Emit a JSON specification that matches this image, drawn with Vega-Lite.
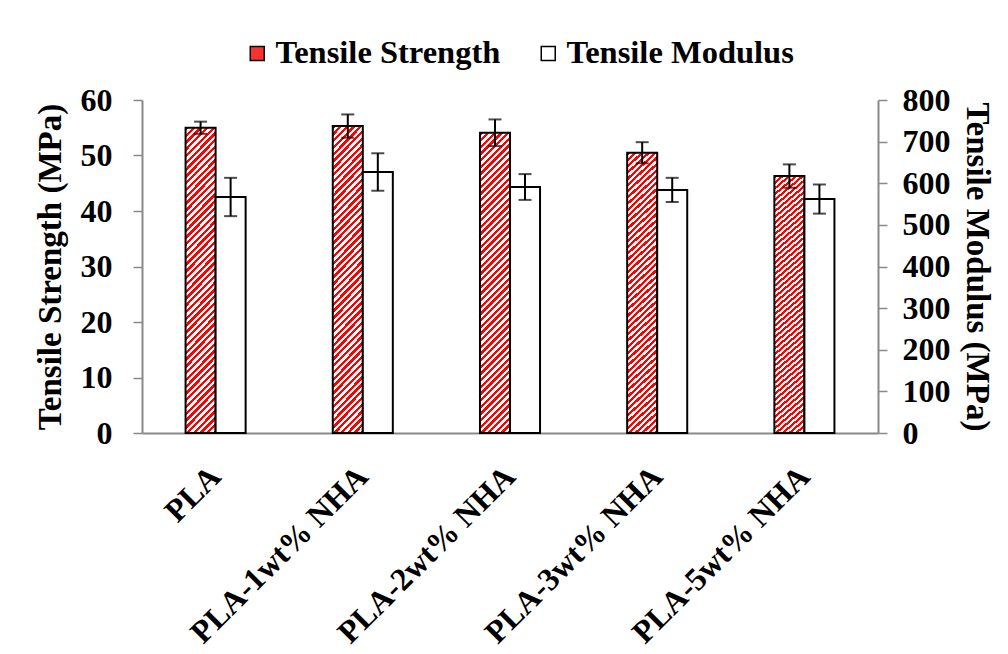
{
  "$schema": "https://vega.github.io/schema/vega-lite/v6.json",
  "width": 736,
  "height": 333,
  "autosize": {"type": "none"},
  "padding": {"left": 142, "top": 100, "right": 130, "bottom": 221},
  "background": "white",
  "config": {
    "view": {"stroke": null},
    "font": "Liberation Serif",
    "axis": {
      "labelFont": "Liberation Serif",
      "labelFontWeight": "bold",
      "labelFontSize": 32,
      "labelColor": "black",
      "labelLimit": 400,
      "titleFont": "Liberation Serif",
      "titleFontWeight": "bold",
      "titleFontSize": 33,
      "titleColor": "black",
      "domainColor": "#898989",
      "domainWidth": 2,
      "tickColor": "#898989",
      "tickWidth": 1.5,
      "tickSize": 9,
      "grid": false,
      "labelPadding": 18
    }
  },
  "data": {
    "values": [
      {"sample": "PLA", "property": "Tensile Strength", "mean": 55.0, "sd": 1.1},
      {"sample": "PLA", "property": "Tensile Modulus", "mean": 567, "sd": 46},
      {"sample": "PLA-1wt% NHA", "property": "Tensile Strength", "mean": 55.3, "sd": 2.1},
      {"sample": "PLA-1wt% NHA", "property": "Tensile Modulus", "mean": 627, "sd": 45},
      {"sample": "PLA-2wt% NHA", "property": "Tensile Strength", "mean": 54.1, "sd": 2.4},
      {"sample": "PLA-2wt% NHA", "property": "Tensile Modulus", "mean": 591, "sd": 31},
      {"sample": "PLA-3wt% NHA", "property": "Tensile Strength", "mean": 50.5, "sd": 1.9},
      {"sample": "PLA-3wt% NHA", "property": "Tensile Modulus", "mean": 584, "sd": 29},
      {"sample": "PLA-5wt% NHA", "property": "Tensile Strength", "mean": 46.3, "sd": 2.1},
      {"sample": "PLA-5wt% NHA", "property": "Tensile Modulus", "mean": 562, "sd": 35}
    ]
  },
  "encoding": {
    "x": {
      "field": "sample",
      "type": "nominal",
      "sort": null,
      "scale": {"paddingInner": 0.592, "paddingOuter": 0.296},
      "axis": {
        "title": null,
        "ticks": false,
        "labelAngle": -45,
        "labelAlign": "right",
        "labelBaseline": "middle",
        "labelPadding": 38
      }
    },
    "xOffset": {
      "field": "property",
      "type": "nominal",
      "scale": {"domain": ["Tensile Strength", "Tensile Modulus"], "paddingInner": 0, "paddingOuter": 0}
    }
  },
  "layer": [
    {
      "transform": [{"filter": "datum.property === 'Tensile Strength'"}],
      "encoding": {
        "y": {
          "field": "mean",
          "type": "quantitative",
          "scale": {"domain": [0, 60]},
          "axis": {"title": "Tensile Strength (MPa)", "values": [0, 10, 20, 30, 40, 50, 60], "titlePadding": 13, "labelPadding": 21}
        }
      },
      "layer": [
        {
          "mark": {
            "type": "bar",
            "strokeWidth": 2,
            "stroke": "black",
            "fill": {
              "gradient": "linear",
              "x1": 0, "y1": 0, "x2": 0.11, "y2": 1.1,
              "stops": [
                {"offset": 0, "color": "red"},
                {"offset": 0.01, "color": "red"}, {"offset": 0.01, "color": "white"},
                {"offset": 0.02, "color": "white"}, {"offset": 0.02, "color": "red"},
                {"offset": 0.03, "color": "red"}, {"offset": 0.03, "color": "white"},
                {"offset": 0.04, "color": "white"}, {"offset": 0.04, "color": "red"},
                {"offset": 0.05, "color": "red"}, {"offset": 0.05, "color": "white"},
                {"offset": 0.06, "color": "white"}, {"offset": 0.06, "color": "red"},
                {"offset": 0.07, "color": "red"}, {"offset": 0.07, "color": "white"},
                {"offset": 0.08, "color": "white"}, {"offset": 0.08, "color": "red"},
                {"offset": 0.09, "color": "red"}, {"offset": 0.09, "color": "white"},
                {"offset": 0.10, "color": "white"}, {"offset": 0.10, "color": "red"},
                {"offset": 0.11, "color": "red"}, {"offset": 0.11, "color": "white"},
                {"offset": 0.12, "color": "white"}, {"offset": 0.12, "color": "red"},
                {"offset": 0.13, "color": "red"}, {"offset": 0.13, "color": "white"},
                {"offset": 0.14, "color": "white"}, {"offset": 0.14, "color": "red"},
                {"offset": 0.15, "color": "red"}, {"offset": 0.15, "color": "white"},
                {"offset": 0.16, "color": "white"}, {"offset": 0.16, "color": "red"},
                {"offset": 0.17, "color": "red"}, {"offset": 0.17, "color": "white"},
                {"offset": 0.18, "color": "white"}, {"offset": 0.18, "color": "red"},
                {"offset": 0.19, "color": "red"}, {"offset": 0.19, "color": "white"},
                {"offset": 0.20, "color": "white"}, {"offset": 0.20, "color": "red"},
                {"offset": 0.21, "color": "red"}, {"offset": 0.21, "color": "white"},
                {"offset": 0.22, "color": "white"}, {"offset": 0.22, "color": "red"},
                {"offset": 0.23, "color": "red"}, {"offset": 0.23, "color": "white"},
                {"offset": 0.24, "color": "white"}, {"offset": 0.24, "color": "red"},
                {"offset": 0.25, "color": "red"}, {"offset": 0.25, "color": "white"},
                {"offset": 0.26, "color": "white"}, {"offset": 0.26, "color": "red"},
                {"offset": 0.27, "color": "red"}, {"offset": 0.27, "color": "white"},
                {"offset": 0.28, "color": "white"}, {"offset": 0.28, "color": "red"},
                {"offset": 0.29, "color": "red"}, {"offset": 0.29, "color": "white"},
                {"offset": 0.30, "color": "white"}, {"offset": 0.30, "color": "red"},
                {"offset": 0.31, "color": "red"}, {"offset": 0.31, "color": "white"},
                {"offset": 0.32, "color": "white"}, {"offset": 0.32, "color": "red"},
                {"offset": 0.33, "color": "red"}, {"offset": 0.33, "color": "white"},
                {"offset": 0.34, "color": "white"}, {"offset": 0.34, "color": "red"},
                {"offset": 0.35, "color": "red"}, {"offset": 0.35, "color": "white"},
                {"offset": 0.36, "color": "white"}, {"offset": 0.36, "color": "red"},
                {"offset": 0.37, "color": "red"}, {"offset": 0.37, "color": "white"},
                {"offset": 0.38, "color": "white"}, {"offset": 0.38, "color": "red"},
                {"offset": 0.39, "color": "red"}, {"offset": 0.39, "color": "white"},
                {"offset": 0.40, "color": "white"}, {"offset": 0.40, "color": "red"},
                {"offset": 0.41, "color": "red"}, {"offset": 0.41, "color": "white"},
                {"offset": 0.42, "color": "white"}, {"offset": 0.42, "color": "red"},
                {"offset": 0.43, "color": "red"}, {"offset": 0.43, "color": "white"},
                {"offset": 0.44, "color": "white"}, {"offset": 0.44, "color": "red"},
                {"offset": 0.45, "color": "red"}, {"offset": 0.45, "color": "white"},
                {"offset": 0.46, "color": "white"}, {"offset": 0.46, "color": "red"},
                {"offset": 0.47, "color": "red"}, {"offset": 0.47, "color": "white"},
                {"offset": 0.48, "color": "white"}, {"offset": 0.48, "color": "red"},
                {"offset": 0.49, "color": "red"}, {"offset": 0.49, "color": "white"},
                {"offset": 0.50, "color": "white"}, {"offset": 0.50, "color": "red"},
                {"offset": 0.51, "color": "red"}, {"offset": 0.51, "color": "white"},
                {"offset": 0.52, "color": "white"}, {"offset": 0.52, "color": "red"},
                {"offset": 0.53, "color": "red"}, {"offset": 0.53, "color": "white"},
                {"offset": 0.54, "color": "white"}, {"offset": 0.54, "color": "red"},
                {"offset": 0.55, "color": "red"}, {"offset": 0.55, "color": "white"},
                {"offset": 0.56, "color": "white"}, {"offset": 0.56, "color": "red"},
                {"offset": 0.57, "color": "red"}, {"offset": 0.57, "color": "white"},
                {"offset": 0.58, "color": "white"}, {"offset": 0.58, "color": "red"},
                {"offset": 0.59, "color": "red"}, {"offset": 0.59, "color": "white"},
                {"offset": 0.60, "color": "white"}, {"offset": 0.60, "color": "red"},
                {"offset": 0.61, "color": "red"}, {"offset": 0.61, "color": "white"},
                {"offset": 0.62, "color": "white"}, {"offset": 0.62, "color": "red"},
                {"offset": 0.63, "color": "red"}, {"offset": 0.63, "color": "white"},
                {"offset": 0.64, "color": "white"}, {"offset": 0.64, "color": "red"},
                {"offset": 0.65, "color": "red"}, {"offset": 0.65, "color": "white"},
                {"offset": 0.66, "color": "white"}, {"offset": 0.66, "color": "red"},
                {"offset": 0.67, "color": "red"}, {"offset": 0.67, "color": "white"},
                {"offset": 0.68, "color": "white"}, {"offset": 0.68, "color": "red"},
                {"offset": 0.69, "color": "red"}, {"offset": 0.69, "color": "white"},
                {"offset": 0.70, "color": "white"}, {"offset": 0.70, "color": "red"},
                {"offset": 0.71, "color": "red"}, {"offset": 0.71, "color": "white"},
                {"offset": 0.72, "color": "white"}, {"offset": 0.72, "color": "red"},
                {"offset": 0.73, "color": "red"}, {"offset": 0.73, "color": "white"},
                {"offset": 0.74, "color": "white"}, {"offset": 0.74, "color": "red"},
                {"offset": 0.75, "color": "red"}, {"offset": 0.75, "color": "white"},
                {"offset": 0.76, "color": "white"}, {"offset": 0.76, "color": "red"},
                {"offset": 0.77, "color": "red"}, {"offset": 0.77, "color": "white"},
                {"offset": 0.78, "color": "white"}, {"offset": 0.78, "color": "red"},
                {"offset": 0.79, "color": "red"}, {"offset": 0.79, "color": "white"},
                {"offset": 0.80, "color": "white"}, {"offset": 0.80, "color": "red"},
                {"offset": 0.81, "color": "red"}, {"offset": 0.81, "color": "white"},
                {"offset": 0.82, "color": "white"}, {"offset": 0.82, "color": "red"},
                {"offset": 0.83, "color": "red"}, {"offset": 0.83, "color": "white"},
                {"offset": 0.84, "color": "white"}, {"offset": 0.84, "color": "red"},
                {"offset": 0.85, "color": "red"}, {"offset": 0.85, "color": "white"},
                {"offset": 0.86, "color": "white"}, {"offset": 0.86, "color": "red"},
                {"offset": 0.87, "color": "red"}, {"offset": 0.87, "color": "white"},
                {"offset": 0.88, "color": "white"}, {"offset": 0.88, "color": "red"},
                {"offset": 0.89, "color": "red"}, {"offset": 0.89, "color": "white"},
                {"offset": 0.90, "color": "white"}, {"offset": 0.90, "color": "red"},
                {"offset": 0.91, "color": "red"}, {"offset": 0.91, "color": "white"},
                {"offset": 0.92, "color": "white"}, {"offset": 0.92, "color": "red"},
                {"offset": 0.93, "color": "red"}, {"offset": 0.93, "color": "white"},
                {"offset": 0.94, "color": "white"}, {"offset": 0.94, "color": "red"},
                {"offset": 0.95, "color": "red"}, {"offset": 0.95, "color": "white"},
                {"offset": 0.96, "color": "white"}, {"offset": 0.96, "color": "red"},
                {"offset": 0.97, "color": "red"}, {"offset": 0.97, "color": "white"},
                {"offset": 0.98, "color": "white"}, {"offset": 0.98, "color": "red"},
                {"offset": 0.99, "color": "red"}, {"offset": 0.99, "color": "white"},
                {"offset": 1, "color": "white"}
              ]
            }
          }
        },
        {
          "mark": {"type": "errorbar", "ticks": true, "color": "black", "thickness": 2, "size": 13},
          "encoding": {"yError": {"field": "sd"}}
        }
      ]
    },
    {
      "transform": [{"filter": "datum.property === 'Tensile Modulus'"}],
      "encoding": {
        "y": {
          "field": "mean",
          "type": "quantitative",
          "scale": {"domain": [0, 800]},
          "axis": {
            "orient": "right",
            "title": "Tensile Modulus (MPa)",
            "values": [0, 100, 200, 300, 400, 500, 600, 700, 800],
            "titlePadding": 9,
            "labelPadding": 15
          }
        }
      },
      "layer": [
        {
          "mark": {"type": "bar", "strokeWidth": 2, "stroke": "black"},
          "encoding": {
            "fill": {
              "field": "property",
              "type": "nominal",
              "scale": {"domain": ["Tensile Strength", "Tensile Modulus"], "range": ["#ff3030", "white"]},
              "legend": {
                "title": null,
                "orient": "none",
                "legendX": 99,
                "legendY": -63,
                "direction": "horizontal",
                "symbolType": "square",
                "symbolSize": 196,
                "symbolStrokeWidth": 1.5,
                "symbolStrokeColor": "black",
                "labelFont": "Liberation Serif",
                "labelFontWeight": "bold",
                "labelFontSize": 32.5,
                "labelColor": "black",
                "labelOffset": 2,
                "labelLimit": 500,
                "columnPadding": 31
              }
            }
          }
        },
        {
          "mark": {"type": "errorbar", "ticks": true, "color": "black", "thickness": 2, "size": 13},
          "encoding": {"yError": {"field": "sd"}}
        }
      ]
    }
  ],
  "resolve": {"scale": {"y": "independent"}}
}
